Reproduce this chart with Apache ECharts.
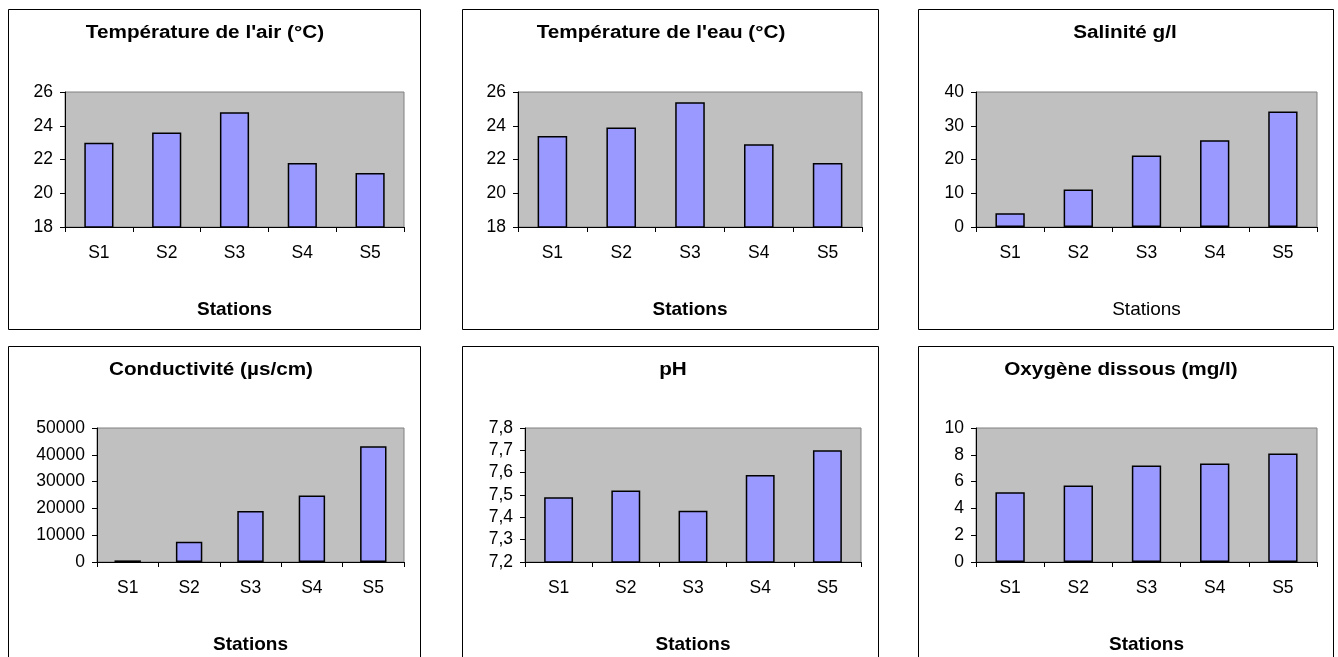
<!DOCTYPE html>
<html>
<head>
<meta charset="utf-8">
<title>Paramètres physico-chimiques par station</title>
<script src="https://cdn.jsdelivr.net/npm/echarts@6/dist/echarts.min.js"></script>
<style>
  html, body { margin: 0; padding: 0; background: #ffffff; }
  #chart { width: 1338px; height: 657px; }
</style>
</head>
<body>
<div id="chart"></div>
<script>
// Stations sampled
const stations = ['S1', 'S2', 'S3', 'S4', 'S5'];

// Measured values per station
const temperatureAir = [23.0, 23.6, 24.8, 21.8, 21.2];
const temperatureEau = [23.4, 23.9, 25.4, 22.9, 21.8];
const salinite = [4.1, 11.1, 21.2, 25.7, 34.2];
const conductivite = [600, 7600, 19000, 24800, 43200];
const ph = [7.49, 7.52, 7.43, 7.59, 7.70];
const oxygeneDissous = [5.2, 5.7, 7.2, 7.35, 8.1];

// Panel titles and axis ranges
const titles = [
  'Température de l\'air (°C)',
  'Température de l\'eau (°C)',
  'Salinité g/l',
  'Conductivité (µs/cm)',
  'pH',
  'Oxygène dissous (mg/l)'
];
const yMin = [18, 18, 0, 0, 7.2, 0];
const yMax = [26, 26, 40, 50000, 7.8, 10];
const yStep = [2, 2, 10, 10000, 0.1, 2];
const axisTitle = 'Stations';

const seriesData = [temperatureAir, temperatureEau, salinite, conductivite, ph, oxygeneDissous];

// Layout of the six panels
const FONT = '"Liberation Sans", Arial, Helvetica, sans-serif';
const frames = [
  { x: 8,   y: 9,   w: 412, h: 320 },
  { x: 462, y: 9,   w: 416, h: 320 },
  { x: 918, y: 9,   w: 415, h: 320 },
  { x: 8,   y: 346, w: 412, h: 330 },
  { x: 462, y: 346, w: 416, h: 330 },
  { x: 918, y: 346, w: 415, h: 330 }
];
const plots = [
  { left: 65,  top: 92,  width: 339, height: 135 },
  { left: 518, top: 92,  width: 344, height: 135 },
  { left: 976, top: 92,  width: 341, height: 135 },
  { left: 97,  top: 428, width: 307, height: 134 },
  { left: 525, top: 428, width: 336, height: 134 },
  { left: 976, top: 428, width: 341, height: 134 }
];
const titlePos = [
  [205, 33], [661, 33], [1125, 33],
  [211, 370], [673, 370], [1121, 370]
];
const axisTitleBold = [true, true, false, true, true, true];

const graphics = [];
frames.forEach(f => {
  graphics.push({
    type: 'rect', silent: true, z: 0,
    shape: { x: f.x + 0.5, y: f.y + 0.5, width: f.w, height: f.h },
    style: { fill: '#ffffff', stroke: '#000000', lineWidth: 1 }
  });
});
// Panel headings, slightly widened to give the spaced-out look of the headings
titles.forEach((t, i) => {
  graphics.push({
    type: 'text', silent: true, z: 10,
    x: titlePos[i][0], y: titlePos[i][1],
    scaleX: 1.15, scaleY: 1,
    style: {
      text: t, fill: '#000000', font: 'bold 18px ' + FONT,
      textAlign: 'center', textVerticalAlign: 'middle'
    }
  });
});

const option = {
  animation: false,
  backgroundColor: '#ffffff',
  graphic: graphics,
  grid: plots.map(p => ({
    left: p.left, top: p.top, width: p.width, height: p.height,
    show: true, backgroundColor: '#C0C0C0', borderColor: '#808080', borderWidth: 1,
    containLabel: false, z: 2
  })),
  xAxis: plots.map((p, i) => ({
    type: 'category',
    gridIndex: i,
    data: stations,
    boundaryGap: true,
    name: axisTitle,
    nameLocation: 'middle',
    nameGap: 73,
    nameTextStyle: {
      color: '#000', fontFamily: FONT, fontSize: 19,
      fontWeight: axisTitleBold[i] ? 'bold' : 'normal'
    },
    axisLine: { show: true, lineStyle: { color: '#000', width: 1 } },
    axisTick: { show: true, length: 5, alignWithLabel: false, lineStyle: { color: '#000' } },
    axisLabel: { color: '#000', fontFamily: FONT, fontSize: 17.5, margin: 17 },
    splitLine: { show: false },
    z: 5
  })),
  yAxis: plots.map((p, i) => ({
    type: 'value',
    gridIndex: i,
    min: yMin[i], max: yMax[i], interval: yStep[i],
    axisLine: { show: true, lineStyle: { color: '#000', width: 1 } },
    axisTick: { show: true, length: 5, lineStyle: { color: '#000' } },
    axisLabel: {
      color: '#000', fontFamily: FONT, fontSize: 17.5, margin: 12,
      formatter: i === 4
        ? (v => v.toFixed(1).replace('.', ','))
        : (v => String(Math.round(v)))
    },
    splitLine: { show: false },
    z: 5
  })),
  series: seriesData.map((d, i) => ({
    type: 'bar',
    xAxisIndex: i, yAxisIndex: i,
    data: d,
    barWidth: '43%',
    itemStyle: { color: '#9999FF', borderColor: '#000000', borderWidth: 1.5 },
    z: 3
  }))
};

const chart = echarts.init(document.getElementById('chart'), null, { renderer: 'canvas' });
chart.setOption(option);
</script>
</body>
</html>
